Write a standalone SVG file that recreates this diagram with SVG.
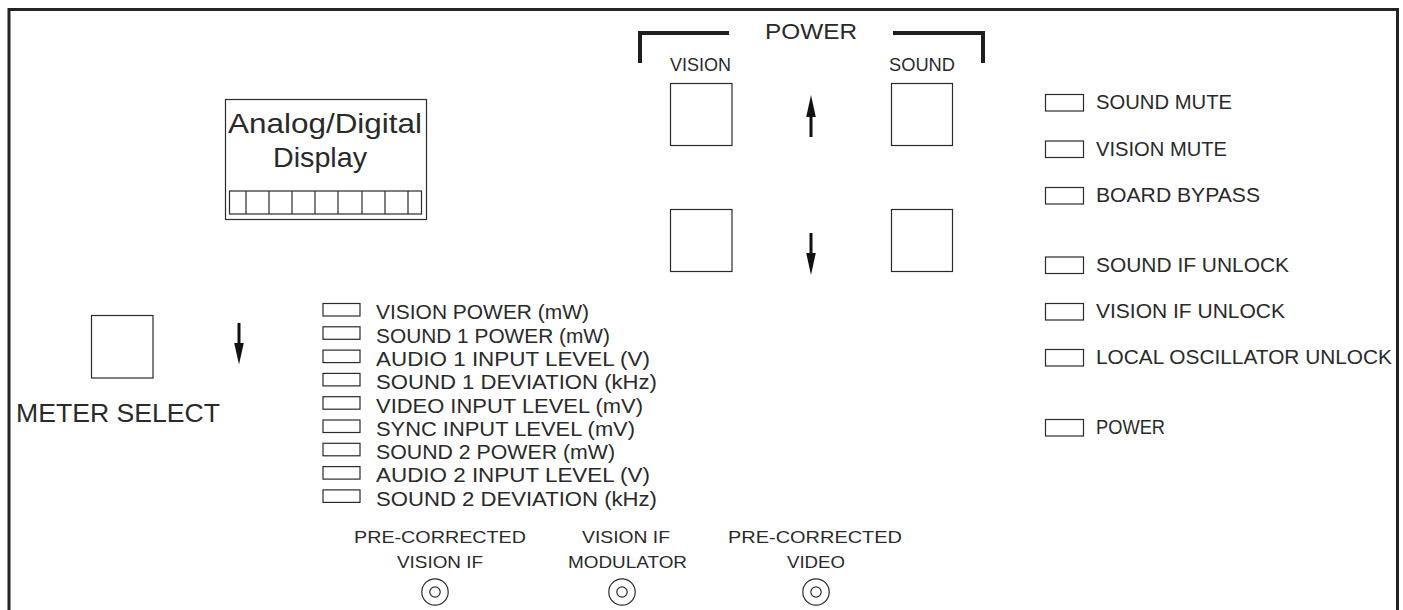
<svg xmlns="http://www.w3.org/2000/svg" width="1403" height="610" viewBox="0 0 1403 610">
<style>
.t{font-family:"Liberation Sans",Arial,sans-serif;fill:#2a2a2a;}
.l{font-size:19.5px;}
.s{font-size:16.5px;}
.box{fill:none;stroke:#2a2a2a;stroke-width:1.2;}
.frame{fill:none;stroke:#262324;stroke-width:3;}
.brk{fill:none;stroke:#1e1e1e;stroke-width:4;}
.shaft{stroke:#111;stroke-width:3;}
.head{fill:#111;}
</style>
<rect width="1403" height="610" fill="#fff"/>
<path class="frame" d="M9,615 V9.5 H1397.5 V615"/>

<g id="display">
<rect class="box" x="225.5" y="99.5" width="201" height="120"/>
<text class="t" x="228" y="133" font-size="27.5" textLength="194" lengthAdjust="spacingAndGlyphs">Analog/Digital</text>
<text class="t" x="273" y="167" font-size="27.5" textLength="94" lengthAdjust="spacingAndGlyphs">Display</text>
<rect class="box" x="229.5" y="191" width="192" height="23"/>
<path class="box" d="M246,191 V214 M269,191 V214 M292,191 V214 M315,191 V214 M338,191 V214 M362,191 V214 M385,191 V214 M408,191 V214"/>
</g>

<g id="power-panel">
<path class="brk" d="M640,63 V33 H729"/>
<path class="brk" d="M893,33 H983 V63"/>
<text class="t" x="765" y="39" font-size="22" textLength="92" lengthAdjust="spacingAndGlyphs">POWER</text>
<text class="t" x="670" y="71" font-size="19" textLength="61" lengthAdjust="spacingAndGlyphs">VISION</text>
<text class="t" x="889" y="71" font-size="19" textLength="66" lengthAdjust="spacingAndGlyphs">SOUND</text>
</g>

<g id="vision-up"><rect class="box" x="670.5" y="83.5" width="61.5" height="62"/></g>
<g id="sound-up"><rect class="box" x="891.5" y="83.5" width="61" height="62"/></g>
<g id="vision-down"><rect class="box" x="670.5" y="209.5" width="61.5" height="62"/></g>
<g id="sound-down"><rect class="box" x="891.5" y="209.5" width="61" height="62"/></g>

<g id="arrows">
<line class="shaft" x1="811" y1="137" x2="811" y2="112"/>
<path class="head" d="M811,95 L815.8,117 L806.2,117 Z"/>
<line class="shaft" x1="811" y1="233" x2="811" y2="258"/>
<path class="head" d="M811,275 L815.8,253 L806.2,253 Z"/>
<line class="shaft" x1="239" y1="323" x2="239" y2="348"/>
<path class="head" d="M239,364.5 L243.8,343 L234.2,343 Z"/>
</g>

<g id="meter-select">
<rect class="box" x="91.5" y="315.5" width="61.5" height="62.5"/>
<text class="t" x="16" y="422" font-size="26" textLength="204" lengthAdjust="spacingAndGlyphs">METER SELECT</text>
</g>

<g id="meter-list">
<g id="m1"><rect class="box" x="323" y="303.5" width="37" height="12.5"/><text class="t l" x="376" y="319.3" textLength="213" lengthAdjust="spacingAndGlyphs">VISION POWER (mW)</text></g>
<g id="m2"><rect class="box" x="323" y="326.8" width="37" height="12.5"/><text class="t l" x="376" y="342.6" textLength="234" lengthAdjust="spacingAndGlyphs">SOUND 1 POWER (mW)</text></g>
<g id="m3"><rect class="box" x="323" y="350.1" width="37" height="12.5"/><text class="t l" x="376" y="365.9" textLength="274" lengthAdjust="spacingAndGlyphs">AUDIO 1 INPUT LEVEL (V)</text></g>
<g id="m4"><rect class="box" x="323" y="373.4" width="37" height="12.5"/><text class="t l" x="376" y="389.2" textLength="281" lengthAdjust="spacingAndGlyphs">SOUND 1 DEVIATION (kHz)</text></g>
<g id="m5"><rect class="box" x="323" y="396.7" width="37" height="12.5"/><text class="t l" x="376" y="412.5" textLength="267" lengthAdjust="spacingAndGlyphs">VIDEO INPUT LEVEL (mV)</text></g>
<g id="m6"><rect class="box" x="323" y="420" width="37" height="12.5"/><text class="t l" x="376" y="435.8" textLength="259" lengthAdjust="spacingAndGlyphs">SYNC INPUT LEVEL (mV)</text></g>
<g id="m7"><rect class="box" x="323" y="443.3" width="37" height="12.5"/><text class="t l" x="376" y="459.1" textLength="239" lengthAdjust="spacingAndGlyphs">SOUND 2 POWER (mW)</text></g>
<g id="m8"><rect class="box" x="323" y="466.6" width="37" height="12.5"/><text class="t l" x="376" y="482.4" textLength="274" lengthAdjust="spacingAndGlyphs">AUDIO 2 INPUT LEVEL (V)</text></g>
<g id="m9"><rect class="box" x="323" y="489.9" width="37" height="12.5"/><text class="t l" x="376" y="505.7" textLength="281" lengthAdjust="spacingAndGlyphs">SOUND 2 DEVIATION (kHz)</text></g>
</g>

<g id="status-leds">
<g id="sound-mute"><rect class="box" x="1045.5" y="94.5" width="38" height="16.5"/><text class="t l" x="1096" y="109" textLength="136" lengthAdjust="spacingAndGlyphs">SOUND MUTE</text></g>
<g id="vision-mute"><rect class="box" x="1045.5" y="141" width="38" height="16.5"/><text class="t l" x="1096" y="155.5" textLength="131" lengthAdjust="spacingAndGlyphs">VISION MUTE</text></g>
<g id="board-bypass"><rect class="box" x="1045.5" y="187.5" width="38" height="16.5"/><text class="t l" x="1096" y="202" textLength="164" lengthAdjust="spacingAndGlyphs">BOARD BYPASS</text></g>
<g id="sound-if-unlock"><rect class="box" x="1045.5" y="257" width="38" height="16.5"/><text class="t l" x="1096" y="271.5" textLength="193" lengthAdjust="spacingAndGlyphs">SOUND IF UNLOCK</text></g>
<g id="vision-if-unlock"><rect class="box" x="1045.5" y="303.5" width="38" height="16.5"/><text class="t l" x="1096" y="318" textLength="189" lengthAdjust="spacingAndGlyphs">VISION IF UNLOCK</text></g>
<g id="lo-unlock"><rect class="box" x="1045.5" y="349.5" width="38" height="16.5"/><text class="t l" x="1096" y="364" textLength="296" lengthAdjust="spacingAndGlyphs">LOCAL OSCILLATOR UNLOCK</text></g>
<g id="power-led"><rect class="box" x="1045.5" y="419.5" width="38" height="16.5"/><text class="t l" x="1096" y="434" textLength="69" lengthAdjust="spacingAndGlyphs">POWER</text></g>
</g>

<g id="conn-vision-if">
<text class="t s" x="354" y="543" textLength="172" lengthAdjust="spacingAndGlyphs">PRE-CORRECTED</text>
<text class="t s" x="397" y="568" textLength="86" lengthAdjust="spacingAndGlyphs">VISION IF</text>
<circle class="box" cx="435" cy="592" r="13.2"/><circle class="box" cx="435" cy="592" r="5.2"/>
</g>
<g id="conn-modulator">
<text class="t s" x="582" y="543" textLength="88" lengthAdjust="spacingAndGlyphs">VISION IF</text>
<text class="t s" x="568" y="568" textLength="119" lengthAdjust="spacingAndGlyphs">MODULATOR</text>
<circle class="box" cx="622" cy="592" r="13.2"/><circle class="box" cx="622" cy="592" r="5.2"/>
</g>
<g id="conn-video">
<text class="t s" x="728" y="543" textLength="174" lengthAdjust="spacingAndGlyphs">PRE-CORRECTED</text>
<text class="t s" x="787" y="568" textLength="58" lengthAdjust="spacingAndGlyphs">VIDEO</text>
<circle class="box" cx="816" cy="592" r="13.2"/><circle class="box" cx="816" cy="592" r="5.2"/>
</g>
</svg>
